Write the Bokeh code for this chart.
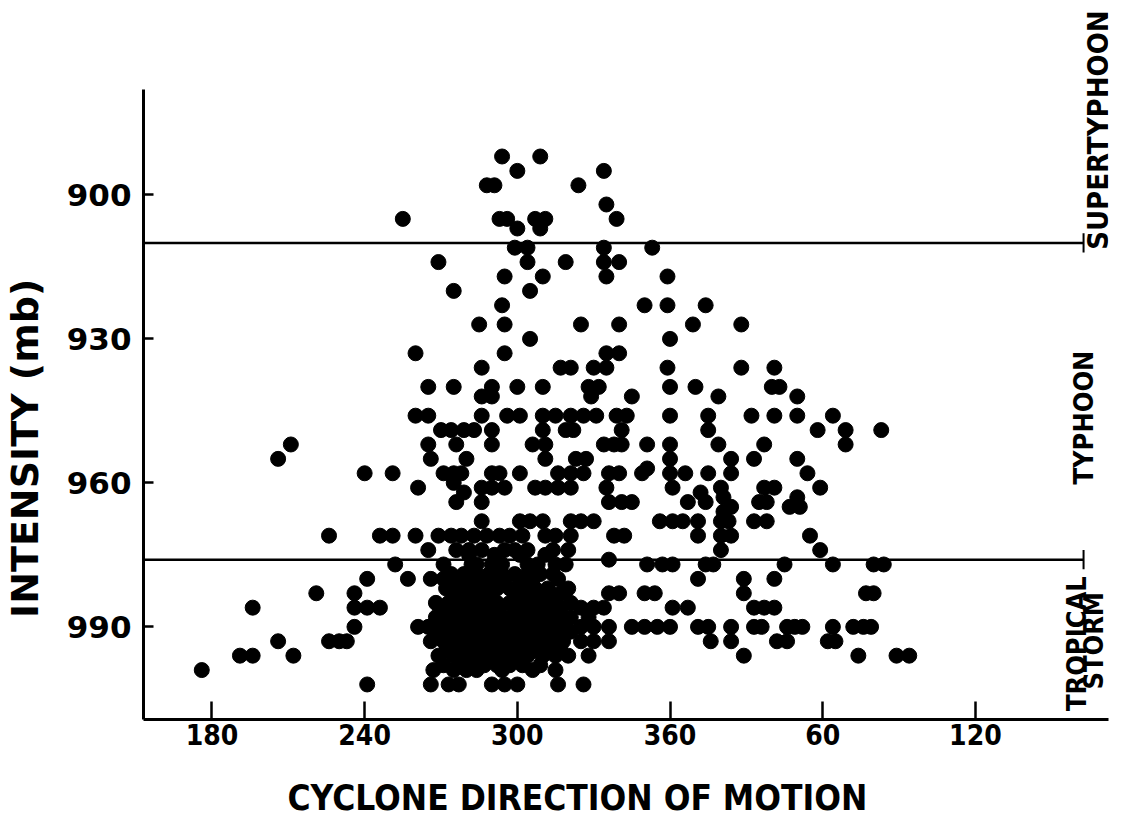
from math import pi
from bokeh.plotting import figure
from bokeh.models import Range1d, FixedTicker, LinearAxis
from bokeh.core.properties import value
from bokeh.embed import file_html
from bokeh.resources import INLINE

# ---- data: direction of motion (deg, 0-359) and intensity (mb)
direction_deg = [
    294, 309,
    300, 334,
    288, 291, 324,
    335,
    255, 293, 296, 307, 311, 339,
    300, 309,
    299, 304, 334, 353,
    269, 304, 319, 334, 340,
    295, 310, 335, 359,
    275, 305,
    294, 350, 359, 14,
    285, 295, 325, 340, 9, 28,
    305, 0,
    260, 295, 335, 340,
    286, 317, 321, 330, 335, 359, 28, 41,
    265, 275, 290, 300, 310, 328, 332, 0, 10, 40, 43,
    286, 290, 329, 345, 19, 50,
    260, 265, 286, 296, 301, 310, 315, 321, 326, 331, 339, 343, 0, 15, 32, 41, 50, 64,
    270, 274, 279, 283, 290, 310, 319, 322, 341, 15, 58, 69, 83,
    211, 265, 276, 290, 306, 311, 334, 338, 341, 351, 0, 19, 37, 69,
    206, 266, 280, 311, 323, 327, 0, 24, 33, 50,
    351,
    240, 251, 271, 275, 278, 290, 293, 301, 316, 321, 326, 336, 340, 349, 0, 6, 15, 24, 54,
    275,
    261, 286, 290, 295, 307, 311, 316, 321, 335, 1, 20, 37, 41, 59,
    279, 12,
    21, 50,
    276, 286, 336, 341, 345, 7, 14, 35, 38,
    24, 47, 51,
    21,
    286, 301, 305, 310, 321, 325, 330, 356, 1, 5, 11, 20, 23, 33, 38,
    226, 246, 251, 260, 269, 274, 278, 283, 288, 293, 297, 302, 311, 315, 321, 338, 342, 11, 20, 24, 55,
    265, 276, 281, 286, 295, 299, 304, 314, 320, 20, 59,
    336, 281, 291, 301, 311,
    252, 271, 282, 284, 290, 294, 304, 308, 315, 319, 351, 357, 1, 14, 17, 45, 64, 80, 84,
    274, 279, 284, 289, 294, 299, 304, 309, 314,
    241, 257, 266, 271, 276, 281, 286, 291, 295, 301, 306, 316, 11, 29, 41,
    272, 277, 282, 287, 292, 297, 302, 307, 312, 320,
    221, 236, 275, 280, 284, 289, 299, 304, 309, 313, 317, 336, 340, 350, 354, 29, 77, 80,
    268, 273, 278, 283, 288, 292, 297, 302, 306, 311, 315, 321,
    196, 236, 241, 246, 271, 275, 280, 284, 289, 293, 299, 303, 308, 313, 317, 325, 330, 334, 1, 7, 33, 37, 41,
    268, 273, 278, 283, 288, 292, 297, 302, 306, 311, 316, 321, 328,
    236, 261, 265, 271, 276, 280, 285, 290, 294, 299, 304, 309, 313, 318, 325, 330, 336, 345, 350, 355, 0, 11, 15, 24, 33, 36, 46, 49, 52, 64, 72, 76, 79,
    268, 273, 278, 283, 288, 292, 297, 302, 306, 311, 316, 321,
    206, 226, 230, 233, 266, 271, 276, 280, 285, 290, 294, 299, 304, 309, 313, 318, 325, 330, 336, 16, 24, 42, 46, 62, 65,
    272, 277, 282, 287, 292, 297, 302, 307, 312, 317,
    191, 196, 212, 269, 275, 280, 284, 289, 294, 299, 304, 310, 315, 320, 328, 29, 74, 89, 94,
    271, 278, 282, 287, 292, 297, 302, 309,
    176, 267, 275, 280, 284, 294, 306, 315,
    241, 266, 273, 277, 290, 295, 300, 316, 326,
]
intensity_mb = [
    892, 892,
    895, 895,
    898, 898, 898,
    902,
    905, 905, 905, 905, 905, 905,
    907, 907,
    911, 911, 911, 911,
    914, 914, 914, 914, 914,
    917, 917, 917, 917,
    920, 920,
    923, 923, 923, 923,
    927, 927, 927, 927, 927, 927,
    930, 930,
    933, 933, 933, 933,
    936, 936, 936, 936, 936, 936, 936, 936,
    940, 940, 940, 940, 940, 940, 940, 940, 940, 940, 940,
    942, 942, 942, 942, 942, 942,
    946, 946, 946, 946, 946, 946, 946, 946, 946, 946, 946, 946, 946, 946, 946, 946, 946, 946,
    949, 949, 949, 949, 949, 949, 949, 949, 949, 949, 949, 949, 949,
    952, 952, 952, 952, 952, 952, 952, 952, 952, 952, 952, 952, 952, 952,
    955, 955, 955, 955, 955, 955, 955, 955, 955, 955,
    957,
    958, 958, 958, 958, 958, 958, 958, 958, 958, 958, 958, 958, 958, 958, 958, 958, 958, 958, 958,
    960,
    961, 961, 961, 961, 961, 961, 961, 961, 961, 961, 961, 961, 961, 961,
    962, 962,
    963, 963,
    964, 964, 964, 964, 964, 964, 964, 964, 964,
    965, 965, 965,
    966,
    968, 968, 968, 968, 968, 968, 968, 968, 968, 968, 968, 968, 968, 968, 968,
    971, 971, 971, 971, 971, 971, 971, 971, 971, 971, 971, 971, 971, 971, 971, 971, 971, 971, 971, 971, 971,
    974, 974, 974, 974, 974, 974, 974, 974, 974, 974, 974,
    976, 975, 975, 975, 975,
    977, 977, 977, 977, 977, 977, 977, 977, 977, 977, 977, 977, 977, 977, 977, 977, 977, 977, 977,
    979, 979, 979, 979, 979, 979, 979, 979, 979,
    980, 980, 980, 980, 980, 980, 980, 980, 980, 980, 980, 980, 980, 980, 980,
    982, 982, 982, 982, 982, 982, 982, 982, 982, 982,
    983, 983, 983, 983, 983, 983, 983, 983, 983, 983, 983, 983, 983, 983, 983, 983, 983, 983,
    985, 985, 985, 985, 985, 985, 985, 985, 985, 985, 985, 985,
    986, 986, 986, 986, 986, 986, 986, 986, 986, 986, 986, 986, 986, 986, 986, 986, 986, 986, 986, 986, 986, 986, 986,
    988, 988, 988, 988, 988, 988, 988, 988, 988, 988, 988, 988, 988,
    990, 990, 990, 990, 990, 990, 990, 990, 990, 990, 990, 990, 990, 990, 990, 990, 990, 990, 990, 990, 990, 990, 990, 990, 990, 990, 990, 990, 990, 990, 990, 990, 990,
    991, 991, 991, 991, 991, 991, 991, 991, 991, 991, 991, 991,
    993, 993, 993, 993, 993, 993, 993, 993, 993, 993, 993, 993, 993, 993, 993, 993, 993, 993, 993, 993, 993, 993, 993, 993, 993,
    995, 995, 995, 995, 995, 995, 995, 995, 995, 995,
    996, 996, 996, 996, 996, 996, 996, 996, 996, 996, 996, 996, 996, 996, 996, 996, 996, 996, 996,
    998, 998, 998, 998, 998, 998, 998, 998,
    999, 999, 999, 999, 999, 999, 999, 999,
    1002, 1002, 1002, 1002, 1002, 1002, 1002, 1002, 1002,
]
assert len(direction_deg) == len(intensity_mb)

x_ticks = [180, 240, 300, 360, 420, 480]
x_tick_labels = ["180", "240", "300", "360", "60", "120"]
y_ticks = [900, 930, 960, 990]
category_limits = [910, 976]
category_names = ["SUPERTYPHOON", "TYPHOON", "TROPICAL", "STORM"]
category_y = [886.5, 946.4, 993.5, 992.9]
x_title = "CYCLONE DIRECTION OF MOTION"
y_title = "INTENSITY (mb)"

# directions past north are continued beyond 360 so the axis runs 180 ... 360, 60, 120
x_plot = [d if d >= 150 else d + 360 for d in direction_deg]

X0, X1 = 153.1, 532.3          # frame edges (x)
LINE_END = 522.5               # where the class-boundary lines stop
Y_BOTTOM, Y_FRAME_TOP = 1009.3, 859.5
Y_AXIS_TOP = 878.0             # the drawn y axis starts here
TITLE_X, YTITLE_Y = 323.6, 952.8

NARROW = "DejaVu Sans Condensed, Roboto Condensed, Roboto"
WIDE = "DejaVu Sans"

p = figure(width=1118, height=820, output_backend="svg", toolbar_location=None,
           x_range=Range1d(X0, X1), y_range=Range1d(Y_BOTTOM, Y_FRAME_TOP),
           min_border_left=143, min_border_right=10, min_border_top=0,
           min_border_bottom=99, background_fill_color="white",
           border_fill_color="white")
p.grid.visible = False
p.outline_line_color = None

xa = p.xaxis[0]
xa.ticker = FixedTicker(ticks=x_ticks)
xa.major_label_overrides = {t: l for t, l in zip(x_ticks, x_tick_labels)}
xa.axis_line_width = 3
xa.major_tick_in = 18
xa.major_tick_out = 0
xa.major_tick_line_width = 2.5
xa.minor_tick_line_color = None
xa.major_label_standoff = 4
xa.major_label_text_font = NARROW
xa.major_label_text_font_style = "bold"
xa.major_label_text_font_size = "28px"
xa.major_label_text_color = "black"

ya = p.yaxis[0]
ya.ticker = FixedTicker(ticks=y_ticks)
ya.bounds = (Y_AXIS_TOP, Y_BOTTOM)
ya.axis_line_width = 3
ya.major_tick_in = 10
ya.major_tick_out = 0
ya.major_tick_line_width = 2.5
ya.minor_tick_line_color = None
ya.major_label_standoff = 12
ya.major_label_text_font = WIDE
ya.major_label_text_font_style = "bold"
ya.major_label_text_font_size = "31px"
ya.major_label_text_color = "black"

# axis titles, drawn as the single label of an extra bare axis so they can sit off-centre
ytitle_axis = LinearAxis(ticker=FixedTicker(ticks=[YTITLE_Y]),
                         major_label_overrides={YTITLE_Y: y_title},
                         axis_line_color=None, major_tick_line_color=None,
                         minor_tick_line_color=None, major_label_orientation="parallel",
                         major_label_standoff=10, major_label_text_font=WIDE,
                         major_label_text_font_style="bold",
                         major_label_text_font_size="38px", major_label_text_color="black")
p.add_layout(ytitle_axis, "left")

xtitle_axis = LinearAxis(ticker=FixedTicker(ticks=[TITLE_X]),
                         major_label_overrides={TITLE_X: x_title},
                         axis_line_color=None, major_tick_line_color=None,
                         minor_tick_line_color=None, major_label_standoff=24,
                         major_label_text_font=NARROW, major_label_text_font_style="bold",
                         major_label_text_font_size="35px", major_label_text_color="black")
p.add_layout(xtitle_axis, "below")

# class boundaries with their end bars
n = len(category_limits)
p.segment(x0=[X0] * n, x1=[LINE_END] * n, y0=category_limits, y1=category_limits,
          line_color="black", line_width=2.5)
p.segment(x0=[LINE_END] * n, x1=[LINE_END] * n,
          y0=[v - 2 for v in category_limits], y1=[v + 2 for v in category_limits],
          line_color="black", line_width=2)

p.scatter(x_plot, intensity_mb, size=15, color="black")

# class names at the right
p.text(x=[LINE_END], y=category_y[:1], text=category_names[:1],
       x_offset=[14], angle=pi / 2, text_align="center",
       text_baseline="middle", text_font=value(NARROW), text_font_style="bold",
       text_font_size=value("29px"), text_color="black")
p.text(x=[LINE_END] * 3, y=category_y[1:], text=category_names[1:],
       x_offset=[0, -7, 10], angle=pi / 2, text_align="center",
       text_baseline="middle", text_font=value(NARROW), text_font_style="bold",
       text_font_size=value("27px"), text_color="black")

open("out.html", "w").write(file_html(p, INLINE))
